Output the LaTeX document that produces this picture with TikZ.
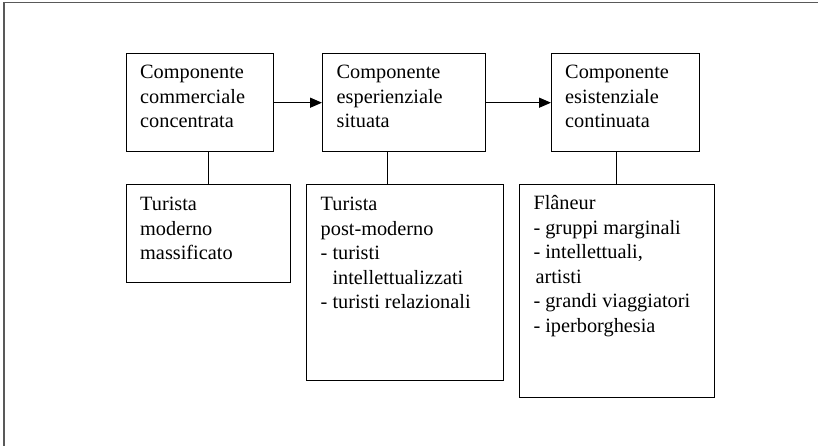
\documentclass[tikz,border=0pt]{standalone}
\usepackage{fontspec}
\setmainfont{Liberation Serif}
\usetikzlibrary{arrows.meta,calc}
\begin{document}
\begin{tikzpicture}[x=1pt,y=-1pt,
  box/.style={draw=black,line width=1.4pt,rectangle,inner sep=0pt,anchor=north west},
  txt/.style={anchor=base west,inner sep=0pt,align=left,font=\fontsize{20.3}{24.5}\selectfont},
  conn/.style={line width=1.4pt},
  arr/.style={line width=1.4pt,-{Triangle[length=12pt,width=10pt]}},
  frame/.style={draw=black!65,line width=1.3pt}]
\useasboundingbox (0,0) rectangle (818,446);
% outer frame
\coordinate (fa) at (818,2.5);
\coordinate (fb) at (4,2.5);
\coordinate (fc) at (4,446);
\draw[frame] (fa) -- (fb) -- (fc);
% top boxes
\node[box,minimum width=147pt,minimum height=98pt] (b1) at (126,53) {};
\node[box,minimum width=163pt,minimum height=98pt] (b2) at (322,53) {};
\node[box,minimum width=148pt,minimum height=98pt] (b3) at (551,53) {};
% bottom boxes
\node[box,minimum width=164pt,minimum height=98pt] (b4) at (126,184) {};
\node[box,minimum width=197pt,minimum height=196pt] (b5) at (305.5,184) {};
\node[box,minimum width=195pt,minimum height=213pt] (b6) at (518.5,184) {};
% texts (base anchor = baseline of last line)
\node[txt] (t1) at (140,128) {Componente\\commerciale\\concentrata};
\node[txt] (t2) at (336.5,128) {Componente\\esperienziale\\situata};
\node[txt] (t3) at (565,128) {Componente\\esistenziale\\continuata};
\node[txt] (t4) at (140,259.5) {Turista\\moderno\\massificato};
\node[txt] (t5) at (320.5,308.5) {Turista\\post-moderno\\- turisti\\\phantom{- }intellettualizzati\\- turisti relazionali};
\node[txt] (t6) at (533.3,332) {Flâneur\\- gruppi marginali\\- intellettuali,\\\hspace{2pt}artisti\\- grandi viaggiatori\\- iperborghesia};
% arrows
\draw[arr] (b1.east) -- (b2.west);
\draw[arr] (b2.east) -- (b3.west);
% vertical connectors
\draw[conn] (b4.north) -- (b4.north |- b1.south);
\coordinate (c5) at (387.7,184);
\draw[conn] (c5) -- (c5 |- b2.south);
\draw[conn] (b6.north) -- (b6.north |- b3.south);
\end{tikzpicture}
\end{document}
